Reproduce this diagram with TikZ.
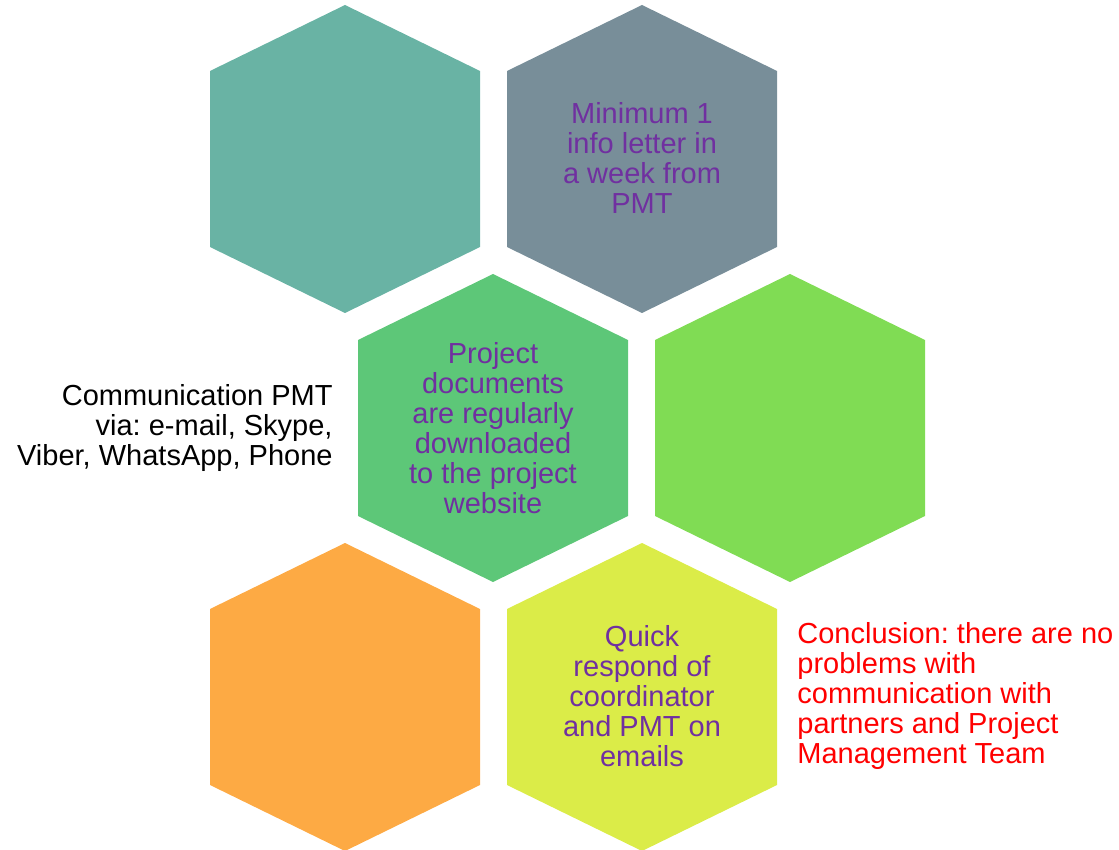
\documentclass[tikz,border=0pt]{standalone}
\usepackage{fontspec}
\setmainfont{Liberation Sans}
\usetikzlibrary{positioning}
\frenchspacing

\definecolor{hexteal}{HTML}{69B3A4}
\definecolor{hexslate}{HTML}{788E99}
\definecolor{hexgreen}{HTML}{5DC778}
\definecolor{hexlime}{HTML}{80DC54}
\definecolor{hexorange}{HTML}{FDAA44}
\definecolor{hexyellow}{HTML}{DBEC48}
\definecolor{hexpurple}{HTML}{7030A0}

\begin{document}
\begin{tikzpicture}[
    x=1pt, y=-1pt,
    cell/.style={
        rectangle,
        minimum width=270pt,
        inner sep=0pt,
        align=center,
        text=hexpurple,
        font=\fontsize{29}{30}\selectfont
    },
    note/.style={
        rectangle,
        inner sep=0pt,
        font=\fontsize{29}{30}\selectfont
    }
]

\useasboundingbox (0,0) rectangle (1119,850);

% honeycomb
\foreach \col/\x/\y in {hexteal/345/159, hexslate/642/159, hexgreen/493/428,
                        hexlime/790/428, hexorange/345/697, hexyellow/642/697}
    \fill[\col] (\x,\y) ++(0,-154) -- ++(135,66) -- ++(0,176) -- ++(-135,66)
        -- ++(-135,-66) -- ++(0,-176) -- cycle;

\node[cell] (letter) at (642,158) {Minimum 1\\info letter in\\a week from\\PMT};

\node[cell] (docs) at (493,428) {Project\\documents\\are regularly\\downloaded\\to the project\\website};

\node[cell] (respond) at (642,696) {Quick\\respond of\\coordinator\\and PMT on\\emails};

\node[note, align=right, left=25pt of docs] (channels) {Communication PMT\\via: e-mail, Skype,\\Viber, WhatsApp, Phone};

\node[note, align=left, text=red, right=20pt of respond] (conclusion) {Conclusion: there are no\\problems with\\communication with\\partners and Project\\Management Team};

\end{tikzpicture}
\end{document}
